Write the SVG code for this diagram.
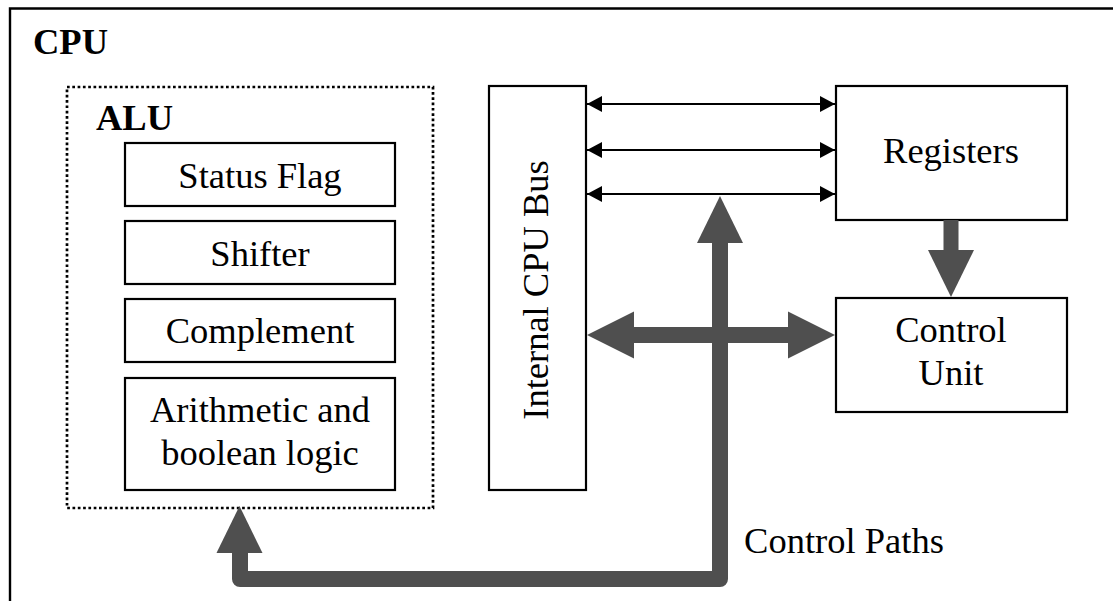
<svg xmlns="http://www.w3.org/2000/svg" width="1113" height="601" viewBox="0 0 1113 601">
  <style>
    .box { fill: #ffffff; stroke: #000000; stroke-width: 2.2; }
    .frame { fill: none; stroke: #000000; stroke-width: 2.4; }
    .dotted { fill: none; stroke: #000000; stroke-width: 2.7; stroke-dasharray: 2.7 2.6; }
    .label { font-family: "Liberation Serif", "Times New Roman", serif; font-size: 36.5px; fill: #000000; text-anchor: middle; }
    .title { font-family: "Liberation Serif", "Times New Roman", serif; font-size: 36.5px; font-weight: bold; fill: #000000; }
    .thin { fill: none; stroke: #000000; stroke-width: 2.2; marker-start: url(#tipStart); marker-end: url(#tipEnd); }
    .thick { fill: none; stroke: #4f4f4f; stroke-width: 16; stroke-linejoin: round; }
    .head { fill: #4f4f4f; }
  </style>
  <defs>
    <marker id="tipEnd" markerUnits="userSpaceOnUse" markerWidth="16" markerHeight="16" refX="15" refY="8" orient="auto">
      <path d="M0,0 L15,8 L0,16 Z" fill="#000000"/>
    </marker>
    <marker id="tipStart" markerUnits="userSpaceOnUse" markerWidth="16" markerHeight="16" refX="0" refY="8" orient="auto">
      <path d="M15,0 L0,8 L15,16 Z" fill="#000000"/>
    </marker>
  </defs>

  <!-- CPU enclosure (open at the bottom and right) -->
  <g id="cpu">
    <path class="frame" d="M10,601 L10,8.5 L1113,8.5"/>
    <text class="title" x="33" y="54">CPU</text>
  </g>

  <!-- ALU with its sub-units -->
  <g id="alu">
    <rect class="dotted" x="67" y="87" width="366" height="421"/>
    <text class="title" x="96" y="130">ALU</text>
  </g>
  <g id="status-flag">
    <rect class="box" x="125" y="143" width="270" height="63"/>
    <text class="label" x="260" y="188">Status Flag</text>
  </g>
  <g id="shifter">
    <rect class="box" x="125" y="221" width="270" height="63"/>
    <text class="label" x="260" y="266">Shifter</text>
  </g>
  <g id="complement">
    <rect class="box" x="125" y="299" width="270" height="63"/>
    <text class="label" x="260" y="343">Complement</text>
  </g>
  <g id="arithmetic">
    <rect class="box" x="125" y="378" width="270" height="112"/>
    <text class="label" x="260" y="422">Arithmetic and</text>
    <text class="label" x="260" y="465">boolean logic</text>
  </g>

  <!-- Internal bus -->
  <g id="bus">
    <rect class="box" x="489" y="86" width="97" height="404"/>
    <text class="label" transform="translate(548,290) rotate(-90)" x="0" y="0">Internal CPU Bus</text>
  </g>

  <g id="registers">
    <rect class="box" x="836" y="86" width="231" height="134"/>
    <text class="label" x="951" y="163">Registers</text>
  </g>

  <g id="control-unit">
    <rect class="box" x="836" y="298" width="231" height="114"/>
    <text class="label" x="951" y="342">Control</text>
    <text class="label" x="951" y="385">Unit</text>
  </g>

  <!-- Connectors -->
  <g id="connectors">
    <!-- bus lines between the bus and the registers -->
    <line class="thin" x1="587" y1="104" x2="835" y2="104"/>
    <line class="thin" x1="587" y1="150" x2="835" y2="150"/>
    <line class="thin" x1="587" y1="194" x2="835" y2="194"/>

    <!-- registers to control unit -->
    <rect class="head" x="943.5" y="220" width="15" height="31"/>
    <polygon class="head" points="928,250 974,250 951,297"/>

    <!-- control path: bus <-> control unit -->
    <line class="thick" x1="633" y1="335" x2="789" y2="335"/>
    <polygon class="head" points="587,335 634,311.5 634,358.5"/>
    <polygon class="head" points="835,335 788,311.5 788,358.5"/>

    <!-- control path running up to the bus lines and round to the ALU -->
    <path class="thick" d="M720,242 L720,579 L240,579 L240,552"/>
    <polygon class="head" points="720,196 697,243 743,243"/>
    <polygon class="head" points="239.5,506 216.5,553 262.5,553"/>

    <text class="label" x="844" y="553">Control Paths</text>
  </g>
</svg>
